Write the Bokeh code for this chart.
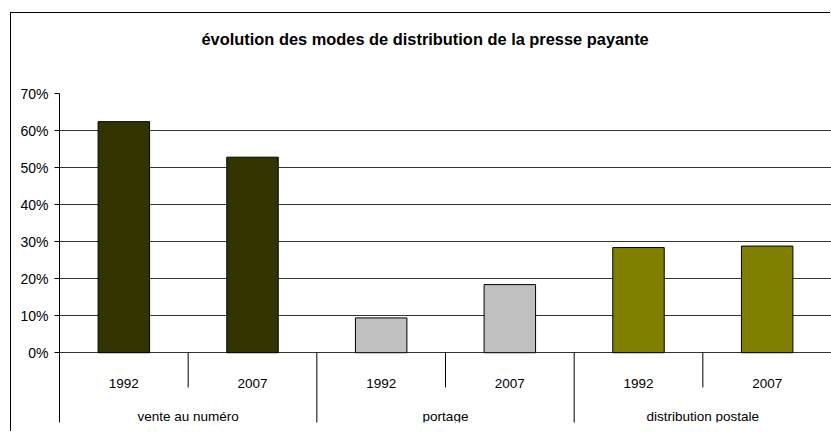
from bokeh.plotting import figure
from bokeh.models import FactorRange, Range1d, FixedTicker, NumeralTickFormatter, ColumnDataSource, Title
from bokeh.core.properties import value
from bokeh.embed import file_html
from bokeh.resources import INLINE

# ---- data ----
title_text = "évolution des modes de distribution de la presse payante"
groups = ["vente au numéro", "portage", "distribution postale"]
years = ["1992", "2007"]
vente_au_numero = [0.624, 0.528]
portage = [0.094, 0.184]
distribution_postale = [0.284, 0.288]
group_colors = ["#333300", "#C0C0C0", "#808000"]
y_ticks = [0.0, 0.1, 0.2, 0.3, 0.4, 0.5, 0.6, 0.7]

series = [vente_au_numero, portage, distribution_postale]
factors = [(g, y) for g in groups for y in years]
vals = [v for s in series for v in s]
colors = [c for c, s in zip(group_colors, series) for _ in s]

LABEL_FONT = "Liberation Sans"
LABEL_SIZE = "13.5px"

x_range = FactorRange(*factors, factor_padding=0, group_padding=0, range_padding=0)
y_range = Range1d(-0.1884, 0.70)

p = figure(width=820, height=419, x_range=x_range, y_range=y_range,
           output_backend="svg", toolbar_location=None, tools="",
           x_axis_location=None, title=title_text,
           min_border_left=48, min_border_right=0, min_border_top=80, min_border_bottom=10,
           background_fill_color="white", border_fill_color="white")
p.margin = (13, 0, 0, 11)
p.styles = {"box-shadow": "-1px -1px 0 0 #000000"}
p.outline_line_color = None

p.title.align = "left"
p.title.offset = 142
p.title.standoff = 10
p.title.text_font = "Liberation Sans"
p.title.text_font_size = "16.4px"
p.title.text_font_style = "bold"
p.title.text_color = "#000000"

# empty spacer between the title and the plot area
p.add_layout(Title(text=" ", text_font_size="16.4px", standoff=21), "above")

# y axis
p.yaxis.ticker = FixedTicker(ticks=y_ticks)
p.yaxis.formatter = NumeralTickFormatter(format="0%")
p.yaxis.axis_line_color = "#000000"
p.yaxis.major_tick_line_color = "#000000"
p.yaxis.major_tick_in = 0
p.yaxis.major_tick_out = 5
p.yaxis.minor_tick_line_color = None
p.yaxis.major_label_standoff = 6
p.yaxis.major_label_text_font = LABEL_FONT
p.yaxis.major_label_text_font_size = "14px"
p.yaxis.major_label_text_color = "#000000"

p.xgrid.grid_line_color = None
p.ygrid.ticker = FixedTicker(ticks=y_ticks)
p.ygrid.grid_line_color = "#333333"
p.ygrid.grid_line_width = 1

# bars
src = ColumnDataSource(dict(x=factors, top=vals, color=colors))
p.vbar(x="x", top="top", bottom=0, width=0.4, source=src,
       fill_color="color", line_color="#000000", line_width=1)

# category separators (below the zero line)
n = len(years)
year_seps = [i for i in range(1, len(factors)) if i % n != 0]
group_seps = [i for i in range(1, len(factors)) if i % n == 0]
p.segment(x0=year_seps, x1=year_seps, y0=[0] * len(year_seps), y1=[-0.0938] * len(year_seps),
          line_color="#000000", line_width=1)
p.segment(x0=group_seps, x1=group_seps, y0=[0] * len(group_seps), y1=[-0.19] * len(group_seps),
          line_color="#000000", line_width=1)

# category labels
p.text(x=factors, y=[-0.0824] * len(factors), text=[f[1] for f in factors],
       text_font=value(LABEL_FONT), text_font_size=LABEL_SIZE, text_color="#000000",
       text_align="center", text_baseline="alphabetic")
p.text(x=groups, y=[-0.1722] * len(groups), text=groups,
       text_font=value(LABEL_FONT), text_font_size=LABEL_SIZE, text_color="#000000",
       text_align="center", text_baseline="alphabetic")

open("out.html", "w").write(file_html(p, INLINE))
